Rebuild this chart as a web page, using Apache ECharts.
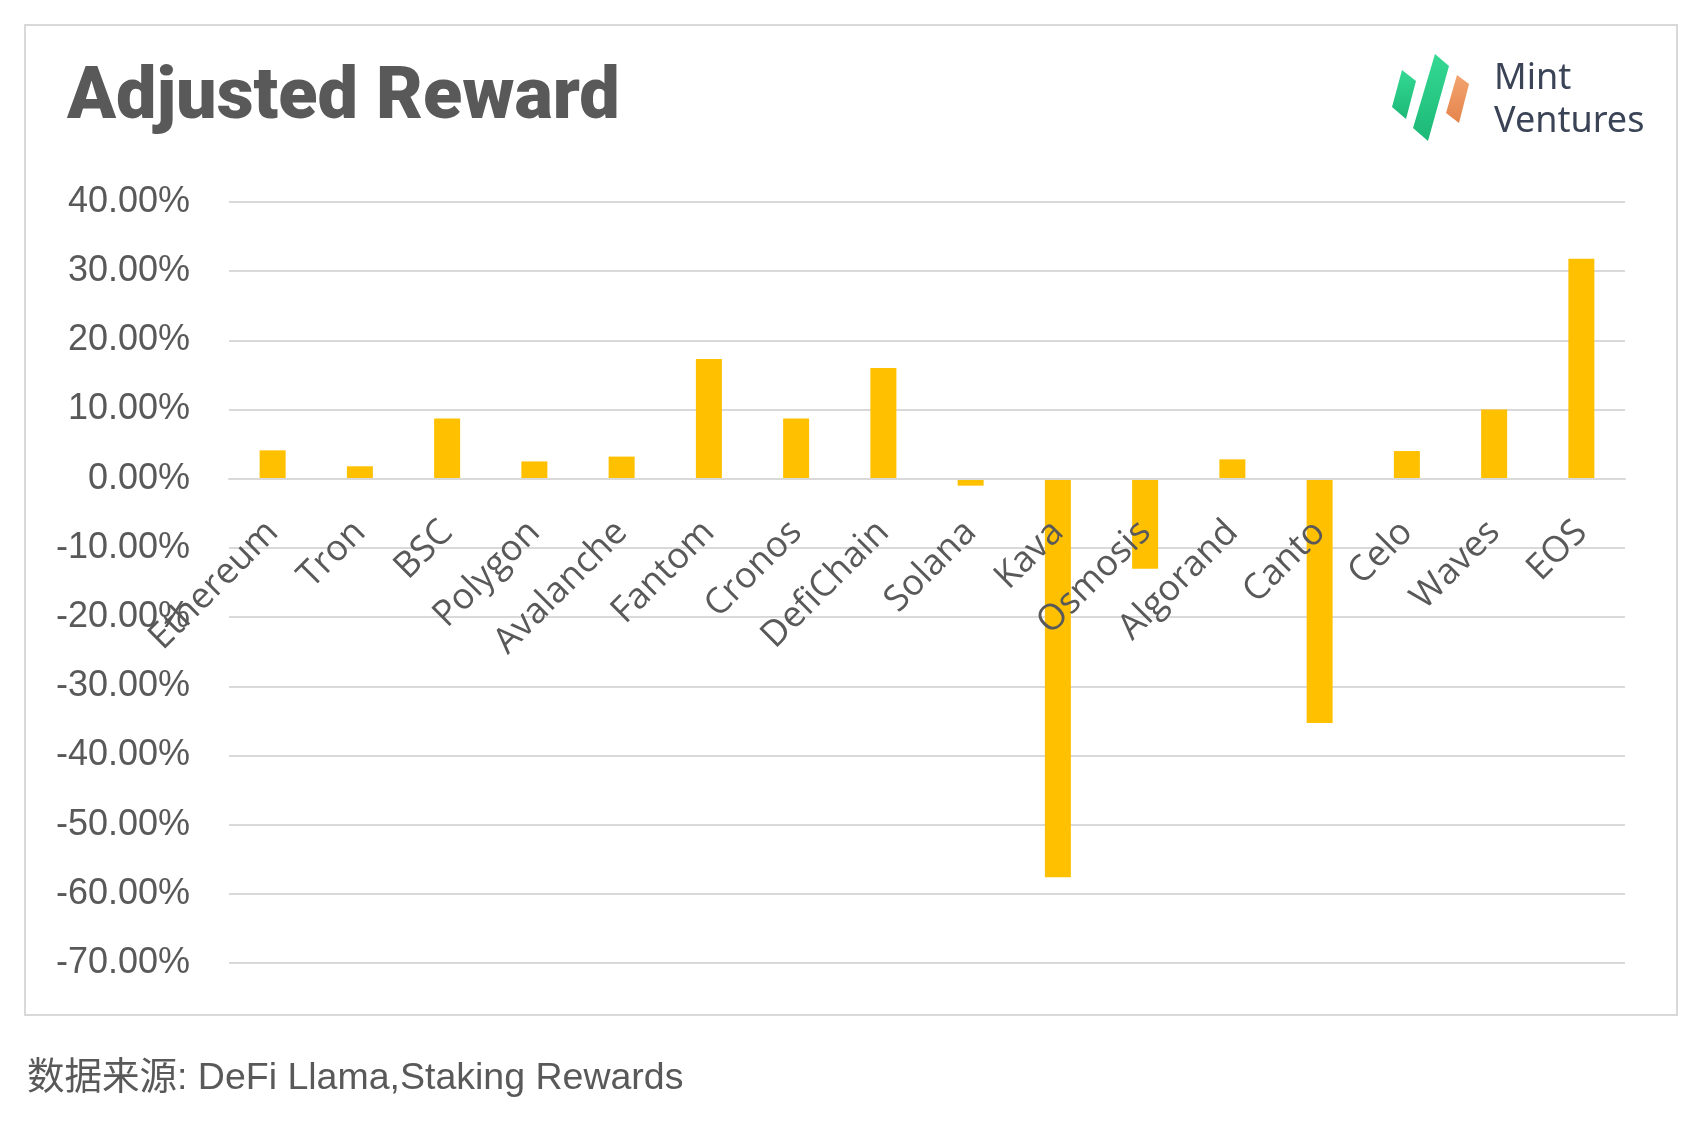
<!DOCTYPE html>
<html><head><meta charset="utf-8">
<script src="https://cdn.jsdelivr.net/npm/echarts@6/dist/echarts.min.js"></script>
<style>html,body{margin:0;padding:0;background:#fff}#c{width:1702px;height:1124px}</style>
</head><body><div id="c"></div>
<script>
const categories = ['Ethereum','Tron','BSC','Polygon','Avalanche','Fantom','Cronos','DefiChain','Solana','Kava','Osmosis','Algorand','Canto','Celo','Waves','EOS'];
const adjustedReward = [4.1, 1.8, 8.7, 2.5, 3.2, 17.3, 8.7, 16.0, -1.0, -57.6, -13.0, 2.8, -35.3, 4.0, 10.0, 31.8];
const yMin = -70, yMax = 40, yStep = 10;
const titleText = 'Adjusted Reward';
const sourceText = '数据来源: DeFi Llama,Staking Rewards';

const gridTop = 202, gridBottom = 161, H = 1124;
const gridH = H - gridTop - gridBottom;
const zeroOffset = -gridH * (0 - yMin) / (yMax - yMin);

const greenGrad = new echarts.graphic.LinearGradient(0,0,0,1,[{offset:0,color:'#34d993'},{offset:1,color:'#1cb877'}]);
const orangeGrad = new echarts.graphic.LinearGradient(0,0,0,1,[{offset:0,color:'#f2a36f'},{offset:1,color:'#e5844c'}]);

const chart = echarts.init(document.getElementById('c'), null, {renderer:'canvas'});
chart.setOption({
  backgroundColor:'#fff',
  animation:false,
  title:{text:titleText,left:62,top:59,textStyle:{fontFamily:'Roboto',fontWeight:900,fontSize:72,color:'#595959'}},
  grid:{left:229,right:77,top:gridTop,bottom:gridBottom},
  xAxis:{type:'category',data:categories,offset:zeroOffset,z:10,
    axisLine:{onZero:false,lineStyle:{color:'#d9d9d9',width:2}},
    axisTick:{show:false},
    axisLabel:{interval:0,rotate:45,margin:48,fontFamily:'Open Sans',fontSize:36,color:'#595959'}},
  yAxis:{type:'value',min:yMin,max:yMax,interval:yStep,
    axisLine:{show:false},axisTick:{show:false},
    splitLine:{lineStyle:{color:'#d9d9d9',width:2}},
    axisLabel:{margin:39,fontFamily:'Liberation Sans',fontSize:36,color:'#595959',formatter:v=>v.toFixed(2)+'%'}},
  series:[{type:'bar',data:adjustedReward,barWidth:26,z:2,itemStyle:{color:'#FFC000'}}],
  graphic:[
    {type:'rect',shape:{x:25,y:25,width:1652,height:990},style:{fill:'none',stroke:'#d9d9d9',lineWidth:2},z:-1},
    {type:'polygon',shape:{points:[[1402,70],[1416,81],[1406,119],[1392,107]]},style:{fill:greenGrad}},
    {type:'polygon',shape:{points:[[1435,54],[1449,66],[1428,141],[1413,128]]},style:{fill:greenGrad}},
    {type:'polygon',shape:{points:[[1457,75],[1469,84],[1459,123],[1446,113]]},style:{fill:orangeGrad}},
    {type:'text',left:1494,top:61,style:{text:'Mint',fontFamily:'Noto Sans',fontSize:36,fill:'#3b4456'}},
    {type:'text',left:1494,top:104,style:{text:'Ventures',fontFamily:'Noto Sans',fontSize:36,fill:'#3b4456'}},
    {type:'text',left:27,top:1060,style:{text:sourceText,fontFamily:'Liberation Sans, Noto Sans CJK SC',fontSize:37.5,fill:'#595959'}}
  ]
});
</script></body></html>
